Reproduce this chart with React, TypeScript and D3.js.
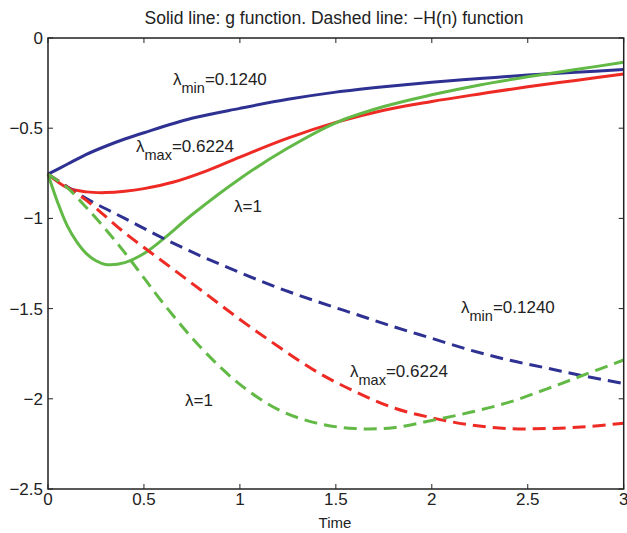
import React from 'react';
import * as d3 from 'd3';

const WIDTH = 627;
const HEIGHT = 533;
const MARGIN = { top: 38, right: 4, bottom: 44, left: 48 };

// g function (solid)
const gMinX = [0, 0.1, 0.2, 0.3, 0.4, 0.5, 0.75, 1.0, 1.25, 1.5, 1.75, 2.0, 2.25, 2.5, 2.75, 3.0];
const gMinY = [-0.755, -0.70, -0.645, -0.60, -0.56, -0.525, -0.445, -0.39, -0.34, -0.30, -0.27, -0.245, -0.225, -0.205, -0.19, -0.175];

const gMaxX = [0, 0.1, 0.2, 0.3, 0.4, 0.5, 0.65, 0.83, 1.0, 1.25, 1.5, 1.75, 2.0, 2.25, 2.5, 2.75, 3.0];
const gMaxY = [-0.755, -0.83, -0.853, -0.857, -0.85, -0.835, -0.80, -0.735, -0.66, -0.555, -0.468, -0.40, -0.352, -0.31, -0.27, -0.235, -0.20];

const gOneX = [0, 0.05, 0.1, 0.15, 0.2, 0.25, 0.3, 0.4, 0.5, 0.6, 0.75, 1.0, 1.25, 1.5, 1.75, 2.0, 2.25, 2.5, 2.75, 3.0];
const gOneY = [-0.755, -0.91, -1.04, -1.13, -1.195, -1.235, -1.255, -1.245, -1.195, -1.115, -0.98, -0.78, -0.61, -0.47, -0.38, -0.315, -0.26, -0.215, -0.175, -0.135];

// -H(n) function (dashed)
const hMinX = [0, 0.2, 0.4, 0.6, 0.8, 1.0, 1.2, 1.4, 1.6, 1.8, 2.0, 2.2, 2.4, 2.6, 2.8, 3.0];
const hMinY = [-0.755, -0.89, -1.0, -1.11, -1.21, -1.30, -1.385, -1.46, -1.53, -1.60, -1.665, -1.73, -1.785, -1.83, -1.875, -1.915];

const hMaxX = [0, 0.2, 0.4, 0.6, 0.8, 1.0, 1.2, 1.4, 1.6, 1.8, 2.0, 2.2, 2.4, 2.6, 2.8, 3.0];
const hMaxY = [-0.755, -0.90, -1.08, -1.24, -1.40, -1.56, -1.71, -1.85, -1.96, -2.05, -2.105, -2.145, -2.165, -2.165, -2.155, -2.135];

const hOneX = [0, 0.1, 0.2, 0.3, 0.4, 0.5, 0.6, 0.8, 1.0, 1.2, 1.4, 1.6, 1.8, 2.0, 2.2, 2.4, 2.6, 2.8, 3.0];
const hOneY = [-0.755, -0.83, -0.94, -1.06, -1.19, -1.33, -1.47, -1.72, -1.92, -2.06, -2.135, -2.165, -2.16, -2.12, -2.075, -2.02, -1.945, -1.865, -1.785];

const xTicks = [0, 0.5, 1, 1.5, 2, 2.5, 3];
const yTicks = [0, -0.5, -1, -1.5, -2, -2.5];

const BLUE = '#2e3192';
const RED = '#ee2a24';
const GREEN = '#62b946';

const series = [
  { xs: gMinX, ys: gMinY, color: BLUE, dashed: false },
  { xs: gMaxX, ys: gMaxY, color: RED, dashed: false },
  { xs: gOneX, ys: gOneY, color: GREEN, dashed: false },
  { xs: hMinX, ys: hMinY, color: BLUE, dashed: true },
  { xs: hMaxX, ys: hMaxY, color: RED, dashed: true },
  { xs: hOneX, ys: hOneY, color: GREEN, dashed: true },
];

const fmt = (v: number) => (v < 0 ? '\u2212' + String(-v) : String(v));

const App = () => {
  const left = MARGIN.left;
  const right = WIDTH - MARGIN.right;
  const top = MARGIN.top;
  const bottom = HEIGHT - MARGIN.bottom;

  const xScale = d3.scaleLinear().domain([0, 3]).range([left, right + 0.7]);
  const yScale = d3.scaleLinear().domain([-2.5, 0]).range([bottom, top]);

  const line = d3.line<[number, number]>()
    .x(d => xScale(d[0]))
    .y(d => yScale(d[1]))
    .curve(d3.curveCatmullRom.alpha(0.5));

  const font = 'Liberation Sans, Arial, Helvetica, sans-serif';
  const x0 = xScale(0);
  const x1 = xScale(3);

  const lambdaLabel = (x: number, y: number, sub: string, rest: string) => (
    <text x={x} y={y} fontSize={17} fill="#222">
      <tspan>λ</tspan>
      {sub && <tspan dy={8} fontSize={14.5}>{sub}</tspan>}
      <tspan dy={sub ? -8 : 0}>{rest}</tspan>
    </text>
  );

  return (
    <svg width={WIDTH} height={HEIGHT} style={{ position: 'absolute', left: 0, top: 0, background: '#fff' }} fontFamily={font}>
      <rect x={0} y={0} width={WIDTH} height={HEIGHT} fill="#fff" />
      <text x={334} y={24} fontSize={17.5} textAnchor="middle" fill="#222">
        Solid line: g function. Dashed line: {'\u2212'}H(n) function
      </text>

      <g>
        {series.map((s, i) => (
          <path
            key={i}
            d={line(s.xs.map((x, j) => [x, s.ys[j]] as [number, number])) || ''}
            fill="none"
            stroke={s.color}
            strokeWidth={3}
            strokeDasharray={s.dashed ? '13,7' : undefined}
          />
        ))}
      </g>

      {lambdaLabel(173, 85, 'min', '=0.1240')}
      {lambdaLabel(136, 152, 'max', '=0.6224')}
      {lambdaLabel(234, 212, '', '=1')}
      {lambdaLabel(461, 313, 'min', '=0.1240')}
      {lambdaLabel(350, 377, 'max', '=0.6224')}
      {lambdaLabel(185, 406, '', '=1')}

      <rect x={x0} y={top} width={x1 - x0} height={bottom - top} fill="none" stroke="#222" strokeWidth={1.5} />

      {xTicks.map(t => (
        <g key={'x' + t}>
          <line x1={xScale(t)} x2={xScale(t)} y1={bottom} y2={bottom - 5} stroke="#222" />
          <line x1={xScale(t)} x2={xScale(t)} y1={top} y2={top + 5} stroke="#222" />
          <text x={xScale(t)} y={505} fontSize={17} textAnchor="middle" fill="#222">{fmt(t)}</text>
        </g>
      ))}
      {yTicks.map(t => (
        <g key={'y' + t}>
          <line x1={x0} x2={x0 + 5} y1={yScale(t)} y2={yScale(t)} stroke="#222" />
          <line x1={x1} x2={x1 - 5} y1={yScale(t)} y2={yScale(t)} stroke="#222" />
          <text x={43} y={yScale(t)} dy="0.35em" fontSize={17} textAnchor="end" fill="#222">{fmt(t)}</text>
        </g>
      ))}

      <text x={335} y={528} fontSize={15} textAnchor="middle" fill="#222">Time</text>
    </svg>
  );
};

export default App;
